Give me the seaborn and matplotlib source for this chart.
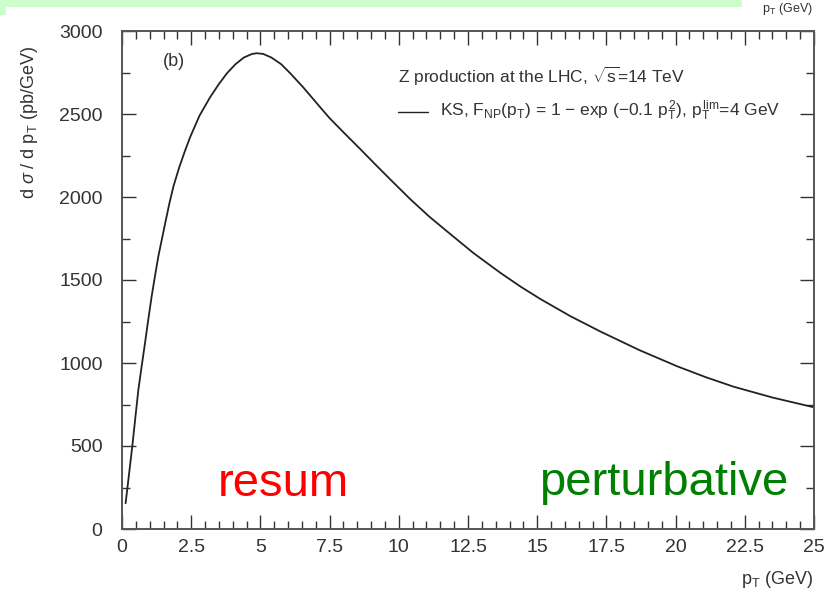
import matplotlib
matplotlib.use("Agg")
import matplotlib.pyplot as plt
import seaborn as sns
import pandas as pd
from matplotlib.patches import Rectangle
from matplotlib.ticker import MultipleLocator

# data
pt = [0.13, 0.25, 0.37, 0.48, 0.59, 0.71, 0.83, 0.95, 1.07, 1.19, 1.31, 1.44, 1.56,
      1.71, 1.86, 2.07, 2.28, 2.46, 2.80, 3.18, 3.49, 3.79, 4.10, 4.40, 4.70, 4.87,
      5.10, 5.40, 5.75, 6.08, 6.55, 7.04, 7.50, 8.00, 8.60, 9.20, 9.80, 10.42,
      11.10, 11.75, 12.70, 13.68, 14.40, 15.12, 16.20, 17.29, 18.70, 20.06,
      21.10, 22.10, 23.50, 25.00]
dsig = [155, 325, 496, 667, 837, 980, 1119, 1262, 1400, 1522, 1640, 1745, 1842,
        1960, 2065, 2180, 2280, 2360, 2490, 2600, 2678, 2745, 2800, 2840, 2862, 2866,
        2862, 2840, 2800, 2745, 2660, 2564, 2475, 2390, 2290, 2188, 2088, 1986,
        1882, 1792, 1662, 1542, 1460, 1385, 1282, 1189, 1077, 980,
        914, 857, 792, 733]

xticks = [0, 2.5, 5, 7.5, 10, 12.5, 15, 17.5, 20, 22.5, 25]
xticklabels = ["0", "2.5", "5", "7.5", "10", "12.5", "15", "17.5", "20", "22.5", "25"]
yticks = [0, 500, 1000, 1500, 2000, 2500, 3000]
yticklabels = ["0", "500", "1000", "1500", "2000", "2500", "3000"]

df = pd.DataFrame({"pt": pt, "dsig": dsig})

sns.set_style("ticks")
plt.rcParams["font.family"] = ["Liberation Sans", "DejaVu Sans"]
plt.rcParams["mathtext.fontset"] = "custom"
plt.rcParams["mathtext.rm"] = "Liberation Sans"
plt.rcParams["mathtext.it"] = "Liberation Sans:italic"
plt.rcParams["mathtext.bf"] = "Liberation Sans:bold"

fig = plt.figure(figsize=(8.38, 5.96), dpi=100)
fig.patch.set_facecolor("white")

# top banner remnants
fig.patches.append(Rectangle((0, 1 - 7 / 596), 742 / 838, 7 / 596,
                             transform=fig.transFigure, facecolor="#ccffcc",
                             edgecolor="none", zorder=0))
fig.patches.append(Rectangle((0, 1 - 15 / 596), 6 / 838, 15 / 596,
                             transform=fig.transFigure, facecolor="#ccffcc",
                             edgecolor="none", zorder=0))
fig.text(813 / 838, 1 - 1 / 596, r"$\mathrm{p_T}$ (GeV)", ha="right", va="top",
         fontsize=9, color="#333333")

ax = fig.add_axes([122 / 838, 1 - 529 / 596, 692 / 838, 498 / 596])
sns.lineplot(data=df, x="pt", y="dsig", ax=ax, color="#222222", linewidth=1.3)

ax.set_xlim(0, 25)
ax.set_ylim(0, 3000)
ax.set_xticks(xticks)
ax.set_xticklabels(xticklabels)
ax.set_yticks(yticks)
ax.set_yticklabels(yticklabels)
ax.xaxis.set_minor_locator(MultipleLocator(0.5))
ax.yaxis.set_minor_locator(MultipleLocator(250))
ax.tick_params(which="both", direction="in", top=True, right=True,
               color="#333333", width=1.0)
ax.tick_params(which="major", length=10)
ax.tick_params(which="minor", length=5.5)
ax.tick_params(axis="x", which="major", pad=7, labelsize=14, labelcolor="#333333")
ax.tick_params(axis="y", which="major", pad=14, labelsize=14, labelcolor="#333333")
for s in ax.spines.values():
    s.set_visible(True)
    s.set_color("#555555")
    s.set_linewidth(1.4)

ax.set_xlabel("")
ax.set_ylabel("")
fig.text(813 / 838, 1 - 580 / 596, r"$\mathrm{p_T}$ (GeV)", ha="right", va="center",
         fontsize=13, color="#333333")
fig.text(30 / 838, 1 - 122 / 596, r"d $\sigma$ / d $\mathrm{p_T}$ (pb/GeV)",
         rotation=90, ha="center", va="center", fontsize=13, color="#333333")

ax.text((163 - 122) / 692, (529 - 62) / 498, "(b)", transform=ax.transAxes,
        fontsize=13, color="#333333", va="center", ha="left")
ax.text((398 - 122) / 692, (529 - 76) / 498,
        r"Z production at the LHC, $\sqrt{\mathrm{s}}$=14 TeV",
        transform=ax.transAxes, fontsize=12.5, color="#333333", va="center", ha="left")
ax.plot([(398 - 122) / 692, (428 - 122) / 692], [(529 - 112) / 498] * 2,
        transform=ax.transAxes, color="#222222", linewidth=1.0)
ax.text((440 - 122) / 692, (529 - 111) / 498,
        r"KS, $\mathrm{F_{NP}(p_T)}$ = 1 $-$ exp ($-$0.1 $\mathrm{p_T^{\,2}}$), $\mathrm{p_T^{\,lim}}$=4 GeV",
        transform=ax.transAxes, fontsize=12.5, color="#333333", va="center", ha="left")

ax.text((218 - 122) / 692, (529 - 496) / 498, "resum", transform=ax.transAxes,
        fontsize=34, color="#ff0000", va="baseline", ha="left")
ax.text((788 - 122) / 692, (529 - 495) / 498, "perturbative", transform=ax.transAxes,
        fontsize=34, color="#008000", va="baseline", ha="right")

fig.savefig("out.png", dpi=100)
